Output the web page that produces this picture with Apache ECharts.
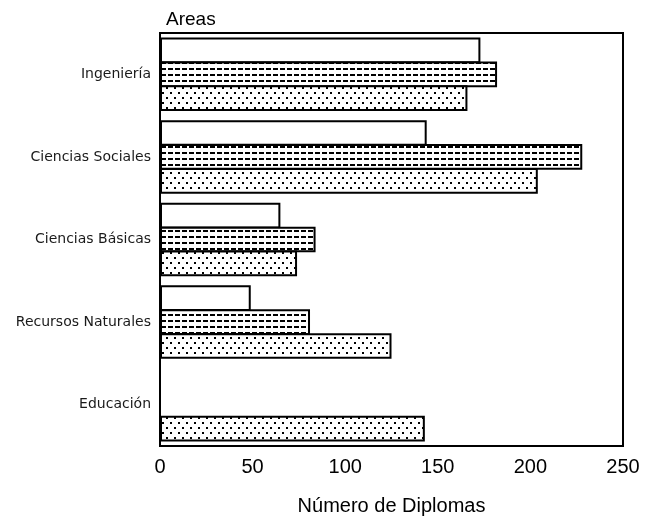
<!DOCTYPE html>
<html><head><meta charset="utf-8">
<script src="https://cdn.jsdelivr.net/npm/echarts@6/dist/echarts.min.js"></script>
<style>html,body{margin:0;padding:0;background:#fff}#c{width:655px;height:521px}</style>
</head><body><div id="c"></div>
<script>
const categories = ['Ingeniería', 'Ciencias Sociales', 'Ciencias Básicas', 'Recursos Naturales', 'Educación'];
const serieBlanca = [173, 144, 65, 49, 0];
const serieRayada = [182, 228, 84, 81, 0];
const seriePunteada = [166, 204, 74, 125, 143];
const xTicks = [0, 50, 100, 150, 200, 250];

function dashPattern() {
  const c = document.createElement('canvas'); c.width = 14; c.height = 6;
  const g = c.getContext('2d'); g.fillStyle = '#fff'; g.fillRect(0,0,14,6);
  g.fillStyle = '#000';
  g.fillRect(0, 2, 5, 2); g.fillRect(7, 2, 5, 2);
  return c;
}
function dotPattern() {
  const c = document.createElement('canvas'); c.width = 16; c.height = 10;
  const g = c.getContext('2d'); g.fillStyle = '#fff'; g.fillRect(0,0,16,10);
  g.fillStyle = '#000';
  g.fillRect(2, 2, 2, 2); g.fillRect(10, 2, 2, 2);
  g.fillRect(6, 7, 2, 2); g.fillRect(14, 7, 2, 2);
  return c;
}
const font = '"Liberation Sans", Arial, sans-serif';
const chart = echarts.init(document.getElementById('c'));
const border = { borderColor: '#000', borderWidth: 2 };
chart.setOption({
  animation: false,
  backgroundColor: '#fff',
  title: { text: 'Areas', left: 161, top: 5, textStyle: { fontFamily: font, fontSize: 19, fontWeight: 'normal', color: '#000' } },
  grid: { left: 160, right: 32, top: 33, bottom: 74, show: true, borderColor: '#000', borderWidth: 2, backgroundColor: 'transparent' },
  xAxis: {
    type: 'value', min: 0, max: 250, interval: 50,
    axisLine: { show: true, lineStyle: { color: '#000', width: 2 } },
    axisTick: { show: false }, splitLine: { show: false },
    axisLabel: { fontFamily: font, fontSize: 20, color: '#000', margin: 11, formatter: v => xTicks.includes(v) ? String(v) : '' },
    name: 'Número de Diplomas', nameLocation: 'middle', nameGap: 50,
    nameTextStyle: { fontFamily: font, fontSize: 20, color: '#000' }
  },
  yAxis: {
    type: 'category', data: categories, inverse: true,
    axisLine: { show: true, lineStyle: { color: '#000', width: 2 } },
    axisTick: { show: false }, splitLine: { show: false },
    axisLabel: { fontFamily: '"DejaVu Sans", sans-serif', fontSize: 14, color: '#1a1a1a', margin: 9 }
  },
  series: [
    { type: 'bar', data: serieBlanca, barGap: '-7%', barCategoryGap: '11%', itemStyle: Object.assign({ color: '#fff' }, border) },
    { type: 'bar', data: serieRayada, barGap: '-7%', barCategoryGap: '11%', itemStyle: Object.assign({ color: { image: dashPattern(), repeat: 'repeat' } }, border) },
    { type: 'bar', data: seriePunteada, barGap: '-7%', barCategoryGap: '11%', itemStyle: Object.assign({ color: { image: dotPattern(), repeat: 'repeat' } }, border) }
  ]
});
</script></body></html>
